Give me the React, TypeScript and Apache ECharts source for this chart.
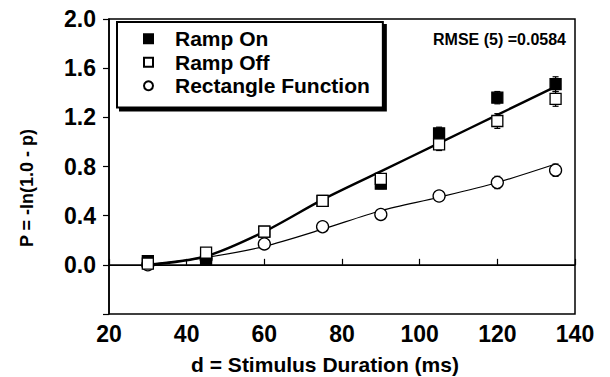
import React, { useEffect, useRef } from "react";
import * as echarts from "echarts";

const durations = [30, 45, 60, 75, 90, 105, 120, 135];
const rampOn = [0.03, 0.04, 0.27, 0.52, 0.66, 1.07, 1.36, 1.47];
const rampOff = [0.01, 0.1, 0.27, 0.52, 0.7, 0.98, 1.17, 1.35];
const rectFn = [0.0, 0.05, 0.17, 0.31, 0.41, 0.56, 0.67, 0.77];
const rampOnErr = [0.02, 0.02, 0.03, 0.03, 0.04, 0.05, 0.05, 0.06];
const rampOffErr = [0.02, 0.02, 0.03, 0.03, 0.04, 0.05, 0.06, 0.06];
const rectErr = [0.02, 0.02, 0.02, 0.02, 0.03, 0.04, 0.05, 0.05];
const rampFit = [0.0, 0.07, 0.27, 0.53, 0.76, 0.99, 1.22, 1.45];
const rectFit = [0.0, 0.06, 0.15, 0.29, 0.44, 0.55, 0.67, 0.82];
const xTicks = { min: 20, max: 140, step: 20 };
const yTicks = { min: -0.4, max: 2.0, step: 0.4 };
const legendNames = ["Ramp On", "Ramp Off", "Rectangle Function"];
const rmseText = "RMSE (5) =0.0584";
const xName = "d = Stimulus Duration (ms)";
const yName = "P = -ln(1.0 - p)";

const FONT = "'Liberation Sans', Arial, Helvetica, sans-serif";

function pairs(ys: number[]) {
  return durations.map((x, i) => [x, ys[i]]);
}

function errData(ys: number[], es: number[]) {
  return durations.map((x, i) => [x, ys[i] - es[i], ys[i] + es[i]]);
}

function errSeries(ys: number[], es: number[]) {
  return {
    type: "custom",
    silent: true,
    z: 1,
    data: errData(ys, es),
    renderItem: (params: any, api: any) => {
      const x = api.value(0);
      const lo = api.coord([x, api.value(1)]);
      const hi = api.coord([x, api.value(2)]);
      const w = 3;
      const st = { stroke: "#000", lineWidth: 1.2 };
      return {
        type: "group",
        children: [
          { type: "line", shape: { x1: lo[0], y1: lo[1], x2: hi[0], y2: hi[1] }, style: st },
          { type: "line", shape: { x1: lo[0] - w, y1: lo[1], x2: lo[0] + w, y2: lo[1] }, style: st },
          { type: "line", shape: { x1: hi[0] - w, y1: hi[1], x2: hi[0] + w, y2: hi[1] }, style: st },
        ],
      };
    },
  };
}

export default function App() {
  const ref = useRef<HTMLDivElement>(null);
  useEffect(() => {
    const chart = echarts.init(ref.current!, null, { renderer: "svg" });
    chart.setOption({
      animation: false,
      backgroundColor: "#fff",
      textStyle: { fontFamily: FONT, color: "#000" },
      grid: {
        left: 109,
        right: 35,
        top: 19,
        bottom: 63,
        show: true,
        borderColor: "#000",
        borderWidth: 1.5,
        backgroundColor: "transparent",
      },
      graphic: [
        {
          type: "text",
          x: 566,
          y: 39,
          style: {
            text: rmseText,
            fontFamily: FONT,
            fontSize: 16,
            fontWeight: "bold",
            fill: "#000",
            textAlign: "right",
            textVerticalAlign: "middle",
          },
        },
        {
          type: "text",
          x: 325,
          y: 364,
          style: {
            text: xName,
            fontFamily: FONT,
            fontSize: 21,
            fontWeight: "bold",
            fill: "#000",
            textAlign: "center",
            textVerticalAlign: "middle",
          },
        },
        {
          type: "text",
          x: 27,
          y: 188,
          rotation: Math.PI / 2,
          style: {
            text: yName,
            fontFamily: FONT,
            fontSize: 18,
            fontWeight: "bold",
            fill: "#000",
            textAlign: "center",
            textVerticalAlign: "middle",
          },
        },
      ],
      legend: {
        orient: "vertical",
        left: 117,
        top: 22,
        padding: [5, 13, 10, 26],
        itemGap: 0,
        itemWidth: 9,
        itemHeight: 9,
        backgroundColor: "#fff",
        borderColor: "#000",
        borderWidth: 2,
        borderRadius: 0,
        shadowColor: "#000",
        shadowOffsetX: 3,
        shadowOffsetY: 3,
        shadowBlur: 0,
        textStyle: {
          fontFamily: FONT,
          fontSize: 21,
          fontWeight: "bold",
          color: "#000",
          lineHeight: 23.5,
          padding: [0, 0, 0, 17],
        },
        data: legendNames,
      },
      xAxis: {
        type: "value",
        min: xTicks.min,
        max: xTicks.max,
        interval: xTicks.step,
        axisLine: { lineStyle: { color: "#000", width: 1.5 } },
        axisTick: { inside: true, length: 6, lineStyle: { color: "#000", width: 1.2 } },
        axisLabel: { fontFamily: FONT, fontSize: 23, fontWeight: "bold", color: "#000", margin: 8 },
        splitLine: { show: false },
      },
      yAxis: {
        type: "value",
        min: yTicks.min,
        max: yTicks.max,
        interval: yTicks.step,
        axisLine: { lineStyle: { color: "#000", width: 1.5 } },
        axisTick: { inside: false, length: 6, lineStyle: { color: "#000", width: 1.2 } },
        axisLabel: {
          fontFamily: FONT,
          fontSize: 23,
          fontWeight: "bold",
          color: "#000",
          margin: 13,
          formatter: (v: number) => (v < -0.01 ? "" : Math.abs(v).toFixed(1)),
        },
        splitLine: { show: false },
      },
      series: [
        {
          name: "zero",
          type: "line",
          data: [],
          silent: true,
          markLine: {
            silent: true,
            symbol: "none",
            label: { show: false },
            lineStyle: { color: "#000", width: 1, type: "solid" },
            data: [{ yAxis: 0 }],
          },
        },
        {
          name: "rampFit",
          type: "line",
          data: pairs(rampFit),
          smooth: 0.3,
          showSymbol: false,
          lineStyle: { color: "#000", width: 2.4 },
          z: 2,
        },
        {
          name: "rectFit",
          type: "line",
          data: pairs(rectFit),
          smooth: 0.3,
          showSymbol: false,
          lineStyle: { color: "#000", width: 1.2 },
          z: 2,
        },
        errSeries(rampOn, rampOnErr),
        errSeries(rampOff, rampOffErr),
        errSeries(rectFn, rectErr),
        {
          name: legendNames[2],
          type: "scatter",
          data: pairs(rectFn),
          symbol: "circle",
          symbolSize: 12,
          itemStyle: { color: "#fff", borderColor: "#000", borderWidth: 1.3, opacity: 1 },
          z: 3,
        },
        {
          name: legendNames[0],
          type: "scatter",
          data: pairs(rampOn),
          symbol: "rect",
          symbolSize: 11,
          itemStyle: { color: "#000", borderColor: "#000", borderWidth: 1.3, opacity: 1 },
          z: 4,
        },
        {
          name: legendNames[1],
          type: "scatter",
          data: pairs(rampOff),
          symbol: "rect",
          symbolSize: 11,
          itemStyle: { color: "#fff", borderColor: "#000", borderWidth: 1.3, opacity: 1 },
          z: 5,
        },
      ],
    });
    return () => chart.dispose();
  }, []);
  return <div ref={ref} style={{ width: 610, height: 377, position: "absolute", left: 0, top: 0 }} />;
}
